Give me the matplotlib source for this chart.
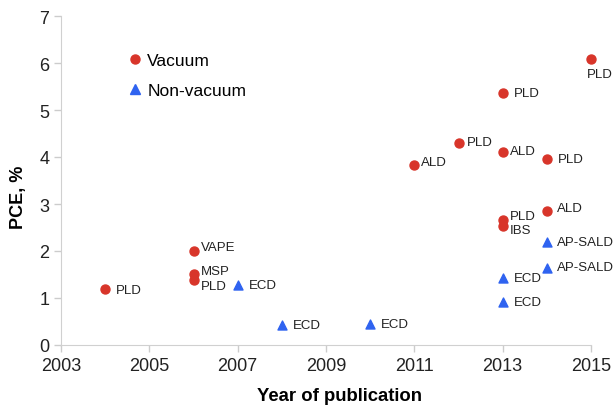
import matplotlib
matplotlib.use("Agg")
import matplotlib.pyplot as plt
from matplotlib.lines import Line2D

plt.rcParams["font.family"] = ["Liberation Sans", "DejaVu Sans"]

# Data
vac_year = [2004, 2006, 2006, 2006, 2011, 2012, 2013, 2013, 2014, 2015, 2013, 2013, 2014]
vac_pce = [1.20, 2.00, 1.52, 1.38, 3.83, 4.30, 5.36, 4.10, 3.96, 6.09, 2.66, 2.54, 2.85]
vac_lab = ["PLD", "VAPE", "MSP", "PLD", "ALD", "PLD", "PLD", "ALD", "PLD", "PLD", "PLD", "IBS", "ALD"]

nv_year = [2007, 2008, 2010, 2013, 2013, 2014, 2014]
nv_pce = [1.27, 0.42, 0.45, 1.43, 0.91, 2.19, 1.63]
nv_lab = ["ECD", "ECD", "ECD", "ECD", "ECD", "AP-SALD", "AP-SALD"]

x_ticks = [2003, 2005, 2007, 2009, 2011, 2013, 2015]
y_ticks = [0, 1, 2, 3, 4, 5, 6, 7]

# Label offsets (points) - layout only
vac_off = [(8, -1), (5, 3), (5, 2), (5, -4), (5, 2), (6, 1), (8, 0), (5, 1), (8, 0), (6, -11), (5, 3), (5, -3), (7, 2)]
vac_ha = ["left"] * 9 + ["center"] + ["left"] * 3
nv_off = [(8, 0), (8, 0), (8, 0), (8, 0), (8, 0), (7, 0), (7, 1)]

red = "#d8352a"
blue = "#2f63f0"

fig = plt.figure(figsize=(6.14, 4.06), dpi=100)
ax = fig.add_axes([61/614, 1 - 346/406, 530/614, 329/406])

ax.scatter(vac_year, vac_pce, s=42, color=red, marker="o", zorder=3, clip_on=False)
ax.scatter(nv_year, nv_pce, s=42, color=blue, marker="^", zorder=3, clip_on=False)

for x, y, t, o, ha in zip(vac_year, vac_pce, vac_lab, vac_off, vac_ha):
    ax.annotate(t, (x, y), xytext=o, textcoords="offset points", ha=ha, va="center",
                fontsize=9.5, color="#222222", annotation_clip=False)
for x, y, t, o in zip(nv_year, nv_pce, nv_lab, nv_off):
    ax.annotate(t, (x, y), xytext=o, textcoords="offset points", ha="left", va="center",
                fontsize=9.5, color="#222222", annotation_clip=False)

ax.set_xlim(2003, 2015)
ax.set_ylim(0, 7)
ax.set_xticks(x_ticks)
ax.set_yticks(y_ticks)
ax.tick_params(axis="both", labelsize=13, colors="#cccccc", labelcolor="#222222", length=5, width=1)
for s in ["top", "right"]:
    ax.spines[s].set_visible(False)
for s in ["left", "bottom"]:
    ax.spines[s].set_color("#d0d0d0")

ax.set_xlabel("Year of publication", fontsize=13.3, fontweight="bold")
ax.set_ylabel("PCE, %", fontsize=13, fontweight="bold")
ax.xaxis.set_label_coords(0.526, -0.128)
ax.yaxis.set_label_coords(-0.064, 0.453)

handles = [
    Line2D([], [], marker="o", linestyle="none", color=red, markersize=6.5),
    Line2D([], [], marker="^", linestyle="none", color=blue, markersize=6.5),
]
ax.legend(handles, ["Vacuum", "Non-vacuum"], loc="upper left", bbox_to_anchor=(0.107, 0.91),
          frameon=False, fontsize=12.5, handletextpad=0.1, handlelength=1.2, labelspacing=0.89,
          borderaxespad=0)

fig.savefig("out.png", dpi=100)
